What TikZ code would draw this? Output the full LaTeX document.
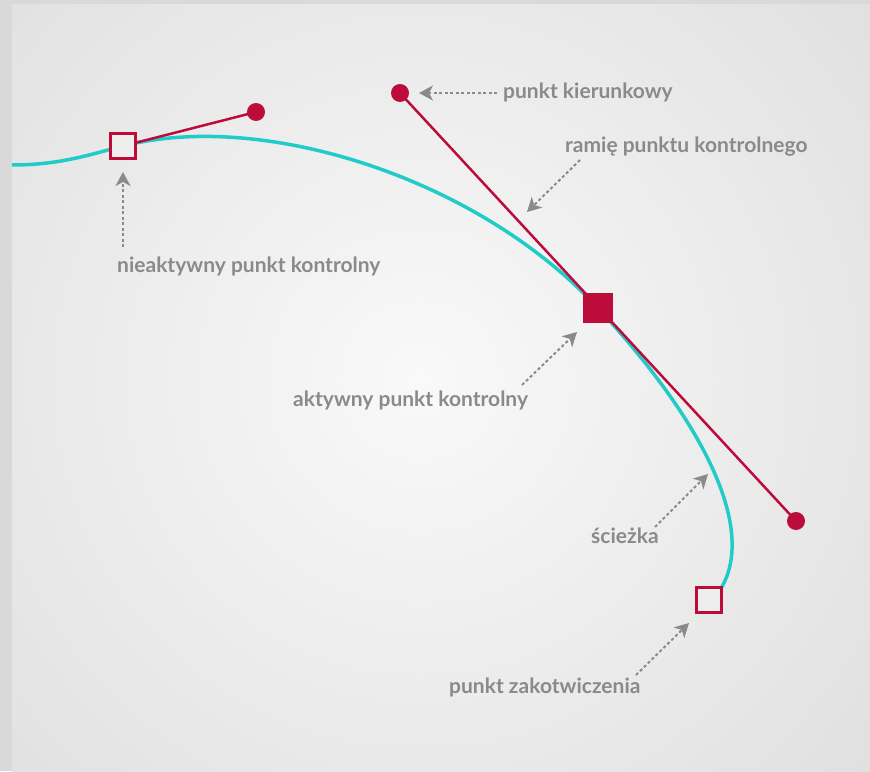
\documentclass[tikz,border=0pt]{standalone}
\usepackage{fontspec}
\setmainfont{Lato}
\usetikzlibrary{arrows.meta}
\definecolor{crim}{RGB}{187,12,60}
\definecolor{tealc}{RGB}{32,203,200}
\definecolor{lblc}{RGB}{138,138,138}
\definecolor{bgframe}{RGB}{217,217,217}
\definecolor{bgin}{RGB}{249,249,249}
\definecolor{bgout}{RGB}{223,223,223}
\definecolor{sqfill}{RGB}{238,238,238}
\pgfdeclarelayer{bg}
\pgfsetlayers{bg,main}
\tikzset{
  hollowsq/.style={draw=crim, line width=3.5pt, fill=sqfill, minimum size=25pt, inner sep=0pt, outer sep=0pt},
  fillsq/.style={fill=crim, minimum size=30pt, inner sep=0pt, outer sep=0pt},
  handledot/.style={circle, fill=crim, minimum size=18pt, inner sep=0pt, outer sep=0pt},
  handleline/.style={draw=crim, line width=2.5pt},
  pathline/.style={draw=tealc, line width=3.5pt},
  lbl/.style={text=lblc, font=\fontsize{21}{25}\selectfont\bfseries, inner sep=0pt, anchor=base west},
  callout/.style={draw=lblc, line width=2pt, dash pattern=on 3pt off 2.5pt,
    -{Stealth[length=14pt,width=15pt,inset=4pt,fill=lblc]}}
}
\begin{document}
\begin{tikzpicture}[x=1pt,y=-1pt]
\useasboundingbox (0,0) rectangle (870,771);
% anchors and handles
\node[hollowsq] (a1) at (123,146) {};
\node[fillsq] (a2) at (598,308) {};
\node[hollowsq] (a3) at (709,600) {};
\node[handledot] (h1) at (256,112) {};
\node[handledot] (h2) at (400,93) {};
\node[handledot] (h3) at (796,521) {};
\coordinate (s0) at (12,165);
\begin{pgfonlayer}{bg}
  \fill[bgframe] (0,0) rectangle (870,771);
  \begin{scope}
    \clip (12,4) rectangle (870,771);
    \fill[bgout] (12,4) rectangle (870,771);
    \shade[inner color=bgin, outer color=bgout] (420,380) circle[radius=620pt];
  \end{scope}
  \draw[pathline] (s0) .. controls (60,165) and (90,154.5) .. (a1.center)
     .. controls (263,110) and (478,178) .. (a2.center)
     .. controls (708,427) and (755,530) .. (a3.north east);
  \draw[handleline] (a1.center) -- (h1.center);
  \draw[handleline] (h2.center) -- (h3.center);
\end{pgfonlayer}
% labels
\node[lbl] (t1) at (503,98) {punkt kierunkowy};
\node[lbl] (t2) at (565,152) {ramię punktu kontrolnego};
\node[lbl] (t3) at (117,272) {nieaktywny punkt kontrolny};
\node[lbl] (t4) at (293,406) {aktywny punkt kontrolny};
\node[lbl] (t5) at (591,543) {ścieżka};
\node[lbl] (t6) at (449,693) {punkt zakotwiczenia};
% callout arrows
\coordinate (c1s) at (497,93);  \coordinate (c1e) at (419,93);
\coordinate (c2s) at (580,160); \coordinate (c2e) at (527,212);
\coordinate (c3s) at (123,247); \coordinate (c3e) at (123,172);
\coordinate (c4s) at (522,385); \coordinate (c4e) at (577,332);
\coordinate (c5s) at (655,527); \coordinate (c5e) at (708,474);
\coordinate (c6s) at (636,675); \coordinate (c6e) at (689,623);
\draw[callout] (c1s) -- (c1e);
\draw[callout] (c2s) -- (c2e);
\draw[callout] (c3s) -- (c3e);
\draw[callout] (c4s) -- (c4e);
\draw[callout] (c5s) -- (c5e);
\draw[callout] (c6s) -- (c6e);
\end{tikzpicture}
\end{document}
